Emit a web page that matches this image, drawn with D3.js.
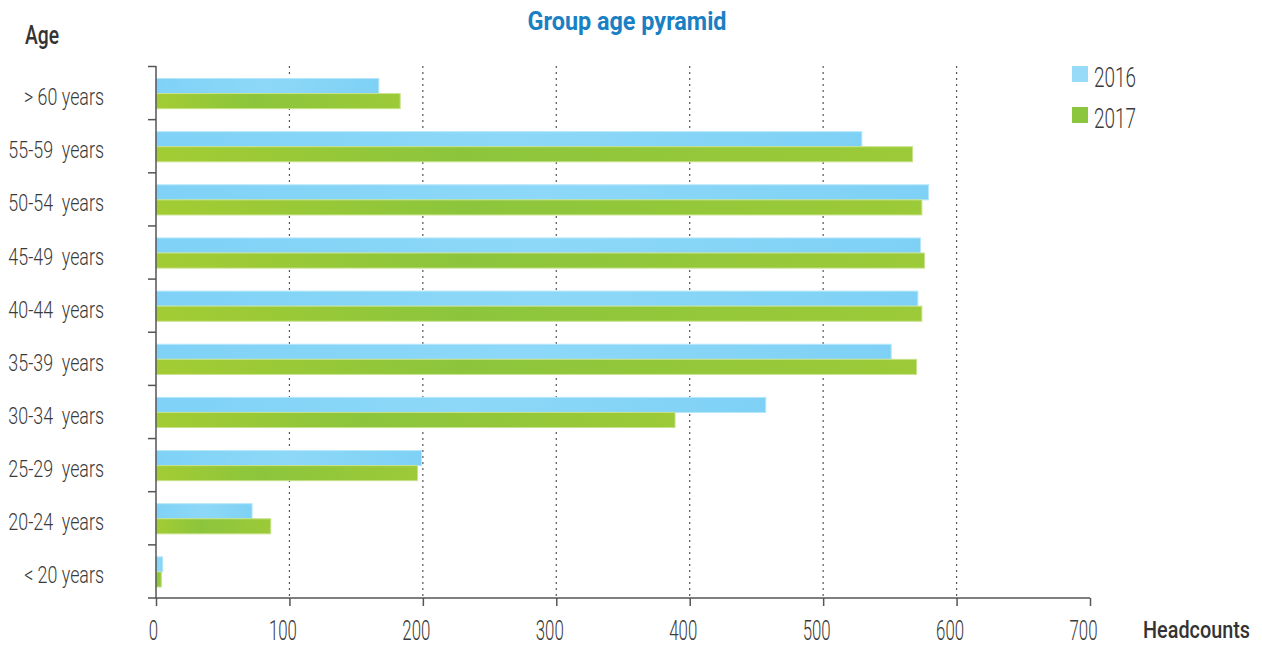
<!DOCTYPE html>
<html><head><meta charset="utf-8">
<script src="https://cdn.jsdelivr.net/npm/d3@7"></script>
<style>
body{margin:0;background:#fff;}
text{font-family:"Roboto","Liberation Sans",sans-serif;}
</style></head>
<body><svg id="c" width="1262" height="646"></svg>
<script>
const categories = ["> 60 years","55-59  years","50-54  years","45-49  years","40-44  years","35-39  years","30-34  years","25-29  years","20-24  years","< 20 years"];
const series = ["2016","2017"];
const values2016 = [167,529,579,573,571,551,457,199,72,5];
const values2017 = [183,567,574,576,574,570,389,196,86,4];
const xTicks = [0,100,200,300,400,500,600,700];
const legendColors = {"2016":"#98dbf8","2017":"#8cc63f"};

const svg = d3.select("#c");
const x = d3.scaleLinear().domain([0,700]).range([156,1090]);
const y = d3.scaleBand().domain(categories).range([66.5,598]);
const inner = d3.scaleBand().domain(series).range([12, y.bandwidth()-11]);

// condense helper: shrink text horizontally so the reference node reaches a target width
function condense(sel, target, refIdx){
  const nodes = sel.nodes();
  const f = target / nodes[refIdx||0].getComputedTextLength();
  nodes.forEach(n=>{
    const w = n.getComputedTextLength();
    n.setAttribute("lengthAdjust","spacingAndGlyphs");
    n.setAttribute("textLength", w*f);
  });
}

// gradients
const defs = svg.append("defs");
const g1 = defs.append("linearGradient").attr("id","gb");
g1.append("stop").attr("offset","0").attr("stop-color","#7fd2f6");
g1.append("stop").attr("offset","0.5").attr("stop-color","#8dd8f8");
g1.append("stop").attr("offset","1").attr("stop-color","#7ed1f5");
const g2 = defs.append("linearGradient").attr("id","gg");
g2.append("stop").attr("offset","0").attr("stop-color","#a3cc33");
g2.append("stop").attr("offset","0.4").attr("stop-color","#8cc53c");
g2.append("stop").attr("offset","1").attr("stop-color","#9cca38");

// grid
svg.append("g").selectAll("line").data(xTicks.filter(d=>d>0 && d<700)).join("line")
  .attr("x1",d=>x(d)).attr("x2",d=>x(d)).attr("y1",66).attr("y2",598)
  .attr("stroke","#555").attr("stroke-width",1.2).attr("stroke-dasharray","2,4");

// bars
const data = categories.map((c,i)=>({c, v:{"2016":values2016[i],"2017":values2017[i]}}));
const grp = svg.append("g").selectAll("g").data(data).join("g").attr("transform",d=>`translate(0,${y(d.c)})`);
grp.selectAll("rect").data(d=>series.map(s=>({s,v:d.v[s]}))).join("rect")
  .attr("x",x(0)).attr("y",d=>inner(d.s)).attr("width",d=>x(d.v)-x(0)).attr("height",inner.bandwidth())
  .attr("fill",d=>d.s==="2016"?"url(#gb)":"url(#gg)")
  .attr("stroke",d=>d.s==="2016"?"#b5e6fb":"#c8e28a").attr("stroke-width",1);

// y axis
const yl = svg.append("g");
yl.append("line").attr("x1",156).attr("x2",156).attr("y1",66).attr("y2",598).attr("stroke","#555").attr("stroke-width",1.5);
const bounds = categories.map(c=>y(c)).concat([y(categories[categories.length-1])+y.bandwidth()]);
yl.selectAll("line.t").data(bounds).join("line").attr("class","t")
  .attr("x1",148).attr("x2",156).attr("y1",d=>d).attr("y2",d=>d).attr("stroke","#555").attr("stroke-width",1.5);
const ylab = yl.selectAll("text").data(categories).join("text")
  .attr("x",104).attr("y",d=>y(d)+y.bandwidth()/2+12).attr("text-anchor","end")
  .attr("font-size",24).attr("font-weight",300).attr("fill","#3a3a3a").attr("xml:space","preserve").text(d=>d);
condense(ylab, 80, 0);

// x axis
const xAxis = d3.axisBottom(x).tickValues(xTicks).tickSize(8).tickPadding(10).tickFormat(d3.format("d"));
const xg = svg.append("g").attr("transform","translate(0,598)").call(xAxis);
xg.attr("font-family",null).attr("font-size",null);
xg.select(".domain").attr("stroke","#555").attr("stroke-width",1.5).attr("d","M156,0H1090");
xg.selectAll(".tick line").attr("stroke","#555").attr("stroke-width",1.5);
const xt = xg.selectAll(".tick text").attr("font-size",27).attr("font-weight",300).attr("fill","#3a3a3a")
  .attr("dy",null).attr("y",42).attr("dx",d=>d===0?-3:-7);
condense(xt, 28, 1);

// titles
const t1 = svg.append("text").attr("x",627).attr("y",30).attr("text-anchor","middle").attr("font-size",26)
  .attr("font-weight","bold").attr("fill","#1a80c4").text("Group age pyramid");
condense(t1, 199);
const t2 = svg.append("text").attr("x",25).attr("y",44).attr("font-size",25).attr("fill","#333").attr("font-weight",500).text("Age");
condense(t2, 34);
const t3 = svg.append("text").attr("x",0).attr("y",0).attr("text-anchor","end").attr("font-size",24).attr("fill","#333").attr("font-weight",500).text("Headcounts");
const f3 = 107 / t3.node().getComputedTextLength();
t3.attr("transform",`translate(1250,638) scale(${f3},1)`);

// legend
const lg = svg.append("g").selectAll("g").data(series).join("g").attr("transform",(d,i)=>`translate(1072,${66+i*41})`);
lg.append("rect").attr("width",16).attr("height",16).attr("fill",d=>legendColors[d]);
const lt = lg.append("text").attr("x",22).attr("y",21).attr("font-size",28).attr("font-weight",300).attr("fill","#3a3a3a").text(d=>d);
condense(lt, 42, 0);
</script></body></html>
